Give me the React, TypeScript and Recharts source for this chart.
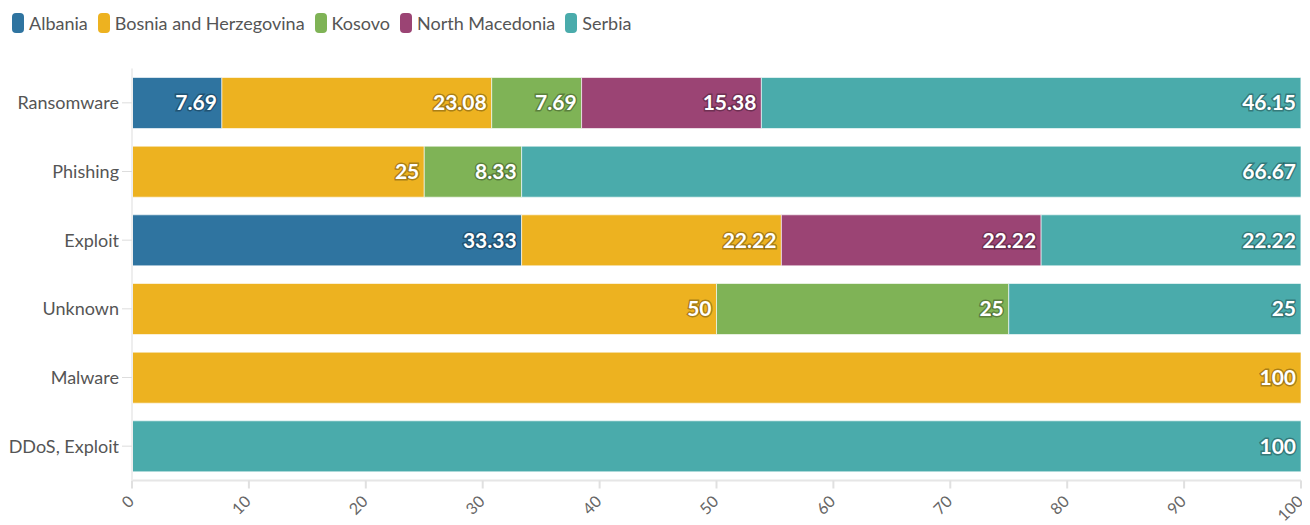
import React from 'react';
import { BarChart, Bar, XAxis, YAxis, LabelList } from 'recharts';

const categories = ['Ransomware', 'Phishing', 'Exploit', 'Unknown', 'Malware', 'DDoS, Exploit'];
const albania = [7.69, null, 33.33, null, null, null];
const bosnia = [23.08, 25, 22.22, 50, 100, null];
const kosovo = [7.69, 8.33, null, 25, null, null];
const northMacedonia = [15.38, null, 22.22, null, null, null];
const serbia = [46.15, 66.67, 22.22, 25, null, 100];
const xTicks = [0, 10, 20, 30, 40, 50, 60, 70, 80, 90, 100];

const series = [
  { key: 'albania', name: 'Albania', color: '#2f74a0', values: albania },
  { key: 'bosnia', name: 'Bosnia and Herzegovina', color: '#edb220', values: bosnia },
  { key: 'kosovo', name: 'Kosovo', color: '#7fb356', values: kosovo },
  { key: 'northMacedonia', name: 'North Macedonia', color: '#9b4474', values: northMacedonia },
  { key: 'serbia', name: 'Serbia', color: '#4aabab', values: serbia },
];

const data = categories.map((name, i) => {
  const row: Record<string, string | number | null> = { name };
  series.forEach((s) => {
    row[s.key] = s.values[i];
  });
  return row;
});

const FONT = 'Lato, "Noto Sans", sans-serif';

const Legend = () => (
  <div style={{ display: 'flex', alignItems: 'center', height: 30, marginLeft: 4, fontFamily: FONT, fontSize: 18, color: '#555' }}>
    {series.map((s) => (
      <div key={s.key} style={{ display: 'flex', alignItems: 'center', marginRight: 10 }}>
        <span style={{ display: 'inline-block', width: 12, height: 20, borderRadius: 4, background: s.color, marginRight: 5 }} />
        <span>{s.name}</span>
      </div>
    ))}
  </div>
);

const App = () => {
  return (
    <div style={{ width: 1302, height: 517, position: 'relative', fontFamily: FONT }}>
      <div style={{ position: 'absolute', top: 0, left: 0 }}>
        <Legend />
      </div>
      <BarChart
        width={1302}
        height={517}
        data={data}
        layout="vertical"
        barSize={51}
        margin={{ top: 60.5, right: 9, bottom: 0, left: 0 }}
      >
        <XAxis
          type="number"
          domain={[0, 100]}
          ticks={xTicks}
          interval={0}
          height={44.5}
          angle={-45}
          textAnchor="end"
          stroke="#e6e6e6"
          strokeWidth={2}
          tickLine={{ stroke: '#e0e0e0' }}
          tickSize={8}
          tickMargin={6}
          tick={{ fill: '#666', fontSize: 16, fontFamily: FONT, dx: -5 }}
        />
        <YAxis
          type="category"
          dataKey="name"
          width={124}
          axisLine={{ stroke: '#eeeeee', strokeWidth: 2 }}
          tickLine={{ stroke: '#dddddd' }}
          tickSize={10}
          tickMargin={3}
          tick={{ fill: '#555', fontSize: 18, fontFamily: FONT }}
        />
        {series.map((s) => (
          <Bar
            key={s.key}
            dataKey={s.key}
            name={s.name}
            stackId="a"
            fill={s.color}
            stroke="#ffffff"
            strokeOpacity={0.6}
            strokeWidth={1}
            isAnimationActive={false}
          >
            <LabelList
              dataKey={s.key}
              position="insideRight"
              offset={5}
              fill="#ffffff"
              stroke="rgba(0,0,0,0.3)"
              strokeWidth={3}
              paintOrder="stroke"
              fontSize={21}
              fontWeight="bold"
              fontFamily={FONT}
            />
          </Bar>
        ))}
      </BarChart>
    </div>
  );
};

export default App;
